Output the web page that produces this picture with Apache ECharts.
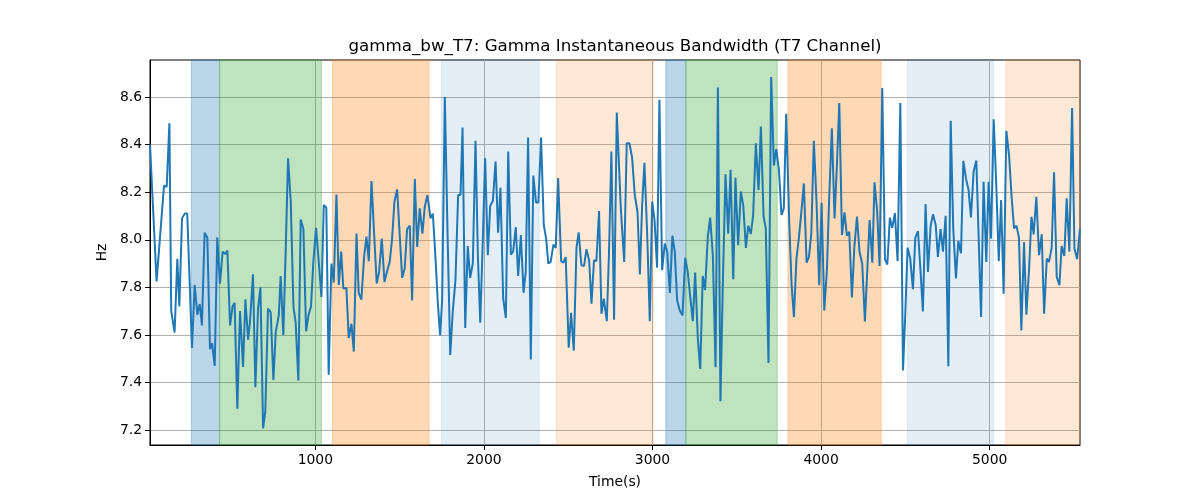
<!DOCTYPE html>
<html>
<head>
<meta charset="utf-8">
<script src="https://cdn.jsdelivr.net/npm/echarts@6/dist/echarts.min.js"></script>
<style>html,body{margin:0;padding:0;background:#fff}#c{width:1200px;height:500px}</style>
</head>
<body>
<div id="c"></div>
<script>
const times = [19,58,102,118,134,145,165,181,193,209,225,240,268,284,300,314,327,343,359,375,387,403,418,434,450,466,478,494,509,521,537,553,571,
585,601,612,630,644,660,674,690,703,719,735,751,765,783,794,810,824,838,854,870,883,899,913,929,945,959,974,988,1004,1020,1036,1050,1065,1079,1095,1109,1125,
1139,1153,1166,1184,1198,1214,1228,1244,1257,1273,1289,1303,1317,1333,1348,1364,1378,1394,1410,1426,1441,1455,1469,1485,1501,1515,1530,1544,1560,1574,1590,1604,1619,1635,1649,1665,1683,
1697,1713,1726,1740,1752,1768,1784,1800,1815,1831,1847,1861,1873,1889,1904,1918,1934,1950,1964,1978,1993,2007,2023,2037,2053,2069,2084,2098,2114,2130,2144,2160,2173,2189,2203,2219,2235,
2248,2262,2278,2293,2309,2323,2339,2355,2369,2382,2396,2412,2426,2440,2458,2471,2485,2503,2517,2533,2549,2562,2578,2594,2608,2624,2638,2653,2667,2683,2697,2711,2729,2742,2756,2772,2788,
2812,2832,2847,2863,2879,2895,2911,2925,2938,2952,2968,2984,2998,3012,3027,3041,3057,3073,3087,3103,3118,3132,3146,3162,3178,3194,3209,3223,3239,3253,3269,3283,3298,3312,3328,3342,
3358,3374,3388,3403,3417,3433,3449,3463,3479,3492,3508,3524,3538,3554,3568,3583,3597,3613,3629,3643,3659,3672,3688,3704,3720,3734,3750,3765,3779,3793,3811,3825,3839,3854,3868,3884,3898,3914,
3928,3942,3957,3973,3989,4003,4019,4035,4048,4064,4080,4094,4108,4124,4139,4153,4167,4183,4197,4213,4228,4244,4260,4274,4288,4304,4317,4333,4347,4363,4379,4393,4408,4422,4438,4454,4470,
4486,4500,4513,4529,4545,4559,4575,4589,4604,4620,4634,4650,4664,4680,4693,4709,4723,4739,4755,4769,4784,4800,4814,4830,4844,4860,4875,4889,4905,4921,4935,4949,4964,4980,4994,5008,5024,
5040,5054,5068,5083,5099,5115,5131,5145,5159,5174,5188,5204,5218,5234,5248,5261,5277,5293,5309,5323,5339,5352,5368,5382,5398,5414,5427,5443,5457,5473,5489,5503,5519,5536];

const bandwidth = [8.40,7.825,8.227,8.223,8.49,7.70,7.61,7.92,7.72,8.09,8.11,8.11,7.545,7.81,7.685,7.73,7.64,8.03,8.01,7.54,7.565,7.47,8.01,7.815,7.95,7.94,7.955,7.64,7.72,7.735,7.29,7.70,7.465,
7.75,7.58,7.655,7.855,7.38,7.71,7.80,7.207,7.277,7.71,7.696,7.41,7.612,7.682,7.847,7.60,7.956,8.343,8.16,7.717,7.654,7.408,8.085,8.045,7.615,7.682,7.72,7.907,8.05,7.907,7.76,8.146,8.135,7.432,7.90,7.82,8.19,
7.81,7.95,7.795,7.797,7.587,7.647,7.53,8.026,7.777,7.748,7.928,8.013,7.91,8.247,8.033,7.816,7.865,8.005,7.822,7.87,7.907,8.003,8.16,8.212,8.012,7.84,7.879,8.045,8.059,7.745,8.256,7.97,8.132,8.026,8.139,8.188,8.09,
8.11,7.92,7.738,7.598,7.745,8.60,8.033,7.516,7.697,7.83,8.188,8.188,8.472,7.629,7.974,7.84,7.90,8.416,7.935,7.651,7.99,8.343,7.935,8.142,8.164,8.329,8.03,8.219,7.755,7.671,8.371,7.938,7.95,8.053,7.848,8.02,7.777,
7.867,8.43,7.497,8.27,8.157,8.157,8.43,8.062,8.005,7.90,7.907,7.98,7.966,8.26,7.91,7.904,7.927,7.546,7.693,7.534,7.966,8.031,7.893,7.89,7.96,7.914,7.731,7.914,7.91,8.121,7.689,7.752,7.658,7.95,8.371,7.664,8.535,
8.132,7.907,8.406,8.406,8.345,8.188,8.118,7.854,8.139,8.324,8.033,7.658,8.16,8.083,7.883,8.589,7.872,7.984,7.95,7.776,8.017,7.95,7.745,7.703,7.682,7.924,7.865,7.766,7.658,7.862,7.584,7.457,7.848,7.788,8.013,8.093,
7.935,7.464,8.64,7.321,7.809,8.275,8.026,8.294,7.834,8.261,7.977,8.203,8.146,7.966,8.059,8.024,8.104,8.406,8.209,8.476,8.097,8.048,7.482,8.684,8.312,8.381,8.294,8.104,8.132,8.53,8.076,7.809,7.675,7.921,8.005,8.125,8.237,7.904,
7.928,8.026,8.416,8.16,7.809,8.156,7.703,7.879,8.174,8.469,8.09,8.315,8.575,8.02,8.115,8.017,8.034,7.757,7.966,8.097,7.95,7.90,7.657,7.872,8.083,7.904,8.242,8.118,7.89,8.638,7.918,7.896,8.093,8.05,8.112,7.91,8.575,
7.45,7.696,7.966,7.921,7.792,8.009,8.036,7.879,7.699,8.15,7.865,8.059,8.107,8.062,7.928,8.045,7.95,8.101,7.468,8.50,8.048,7.837,7.995,7.943,8.332,8.256,8.209,8.094,8.287,8.333,8.005,7.675,8.244,7.907,8.244,8.005,8.507,
8.216,7.91,8.167,7.773,8.458,8.357,8.174,8.048,8.059,8.009,7.619,7.99,7.685,7.879,8.097,8.023,8.181,7.935,8.023,7.689,7.921,7.907,7.966,8.284,7.844,7.809,7.974,7.932,8.174,7.95,8.554,7.963,7.918,8.048];

// shaded spans: [start, end, kind]
const spanStarts = [264, 432, 1101, 1748, 2430, 3079, 3198, 3803, 4513, 5095];
const spanEnds   = [432, 1036, 1675, 2328, 3004, 3198, 3740, 4357, 5022, 5536];
const spanKinds  = ['blue','green','orange','lightblue','lightorange','blue','green','orange','lightblue','lightorange'];

const xTicks = [1000, 2000, 3000, 4000, 5000];
const yTicks = [7.2, 7.4, 7.6, 7.8, 8.0, 8.2, 8.4, 8.6];

const kindColor = {
  blue: 'rgba(31,119,180,0.3)',
  green: 'rgba(44,160,44,0.3)',
  orange: 'rgba(255,127,14,0.3)',
  lightblue: 'rgba(31,119,180,0.12)',
  lightorange: 'rgba(255,127,14,0.17)'
};

const seriesData = times.map((t, i) => [t, bandwidth[i]]);
const areas = spanStarts.map((s, i) => [
  {xAxis: s, itemStyle: {color: kindColor[spanKinds[i]], borderColor: kindColor[spanKinds[i]], borderWidth: 1}},
  {xAxis: spanEnds[i]}
]);

const FONT = 'DejaVu Sans';
const chart = echarts.init(document.getElementById('c'), null, {renderer: 'canvas'});
chart.setOption({
  animation: false,
  backgroundColor: '#fff',
  title: {
    text: 'gamma_bw_T7: Gamma Instantaneous Bandwidth (T7 Channel)',
    left: 615, top: 38, padding: 0, textAlign: 'center',
    textStyle: {fontFamily: FONT, fontSize: 16.7, fontWeight: 'normal', color: '#000'}
  },
  grid: {left: 150, right: 120, top: 60, bottom: 55, show: true, borderColor: '#000', borderWidth: 1, backgroundColor: 'transparent'},
  xAxis: {
    type: 'value', min: 19, max: 5536,
    name: 'Time(s)', nameLocation: 'middle', nameGap: 30,
    nameTextStyle: {fontFamily: FONT, fontSize: 13.9, color: '#000'},
    axisLine: {show: true, onZero: false, lineStyle: {color: '#000', width: 1}},
    axisTick: {show: true, length: 5, lineStyle: {color: '#000', width: 1}, customValues: xTicks},
    axisLabel: {customValues: xTicks, fontFamily: FONT, fontSize: 13.9, color: '#000', margin: 8,
      formatter: v => String(Math.round(v))},
    splitLine: {show: true, lineStyle: {color: '#b0b0b0', width: 1}}
  },
  yAxis: {
    type: 'value', min: 7.137, max: 8.756,
    name: 'Hz', nameLocation: 'middle', nameGap: 36, nameRotate: 90,
    nameTextStyle: {fontFamily: FONT, fontSize: 13.9, color: '#000'},
    axisLine: {show: true, onZero: false, lineStyle: {color: '#000', width: 1}},
    axisTick: {show: true, length: 5, lineStyle: {color: '#000', width: 1}, customValues: yTicks},
    axisLabel: {customValues: yTicks, fontFamily: FONT, fontSize: 13.9, color: '#000', margin: 8,
      formatter: v => v.toFixed(1)},
    splitLine: {show: true, lineStyle: {color: '#b0b0b0', width: 1}}
  },
  series: [{
    type: 'line',
    data: seriesData,
    showSymbol: false,
    lineStyle: {color: '#1f77b4', width: 2},
    itemStyle: {color: '#1f77b4'},
    z: 3,
    markArea: {silent: true, data: areas}
  }]
});
</script>
</body>
</html>
